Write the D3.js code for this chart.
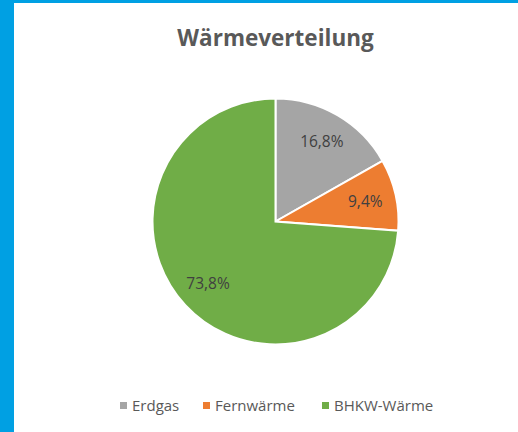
<!DOCTYPE html>
<meta charset="utf-8">
<style>
body { margin: 0; background: #fff; }
text { font-family: "Open Sans", "Liberation Sans", sans-serif; }
</style>
<body>
<script src="https://d3js.org/d3.v7.min.js"></script>
<script>

var categories = ["Erdgas", "Fernwärme", "BHKW-Wärme"];
var values = [16.8, 9.4, 73.8];
var labels = ["16,8%", "9,4%", "73,8%"];
var colors = ["#a5a5a5", "#ed7d31", "#70ad47"];

var width = 518, height = 432;
var cx = 275.5, cy = 221.5, radius = 123;

var svg = d3.select("body").append("svg")
    .attr("width", width)
    .attr("height", height);

// blue frame (top + left)
svg.append("rect").attr("x", 0).attr("y", 0).attr("width", width).attr("height", 3).attr("fill", "#00a0e3");
svg.append("rect").attr("x", 0).attr("y", 0).attr("width", 14).attr("height", height).attr("fill", "#00a0e3");

svg.append("text")
    .attr("x", cx)
    .attr("y", 46)
    .attr("text-anchor", "middle")
    .attr("font-size", "22.5px")
    .attr("font-weight", "bold")
    .attr("fill", "#595959")
    .text("Wärmeverteilung");

var data = categories.map(function(c, i) { return {name: c, value: values[i], label: labels[i], color: colors[i]}; });

var pie = d3.pie().sort(null).value(function(d) { return d.value; });
var arc = d3.arc().innerRadius(0).outerRadius(radius);
var labelArc = d3.arc().innerRadius(92).outerRadius(92);

var g = svg.append("g").attr("transform", "translate(" + cx + "," + cy + ")");

var slice = g.selectAll(".slice")
    .data(pie(data))
  .enter().append("g")
    .attr("class", "slice");

slice.append("path")
    .attr("d", arc)
    .attr("fill", function(d) { return d.data.color; })
    .attr("stroke", "#fff")
    .attr("stroke-width", 2);

slice.append("text")
    .attr("transform", function(d) { return "translate(" + labelArc.centroid(d) + ")"; })
    .attr("dy", "0.35em")
    .attr("text-anchor", "middle")
    .attr("font-size", "15.5px")
    .attr("fill", "#404040")
    .text(function(d) { return d.data.label; });

// legend
var legendX = [120, 203, 322];
var legend = svg.selectAll(".legend")
    .data(data)
  .enter().append("g")
    .attr("class", "legend")
    .attr("transform", function(d, i) { return "translate(" + legendX[i] + ",406)"; });

legend.append("rect")
    .attr("x", 0).attr("y", -4)
    .attr("width", 7).attr("height", 7)
    .attr("fill", function(d) { return d.color; });

legend.append("text")
    .attr("x", 12)
    .attr("dy", "0.35em")
    .attr("font-size", "15px")
    .attr("fill", "#595959")
    .text(function(d) { return d.name; });

</script>
</body>
